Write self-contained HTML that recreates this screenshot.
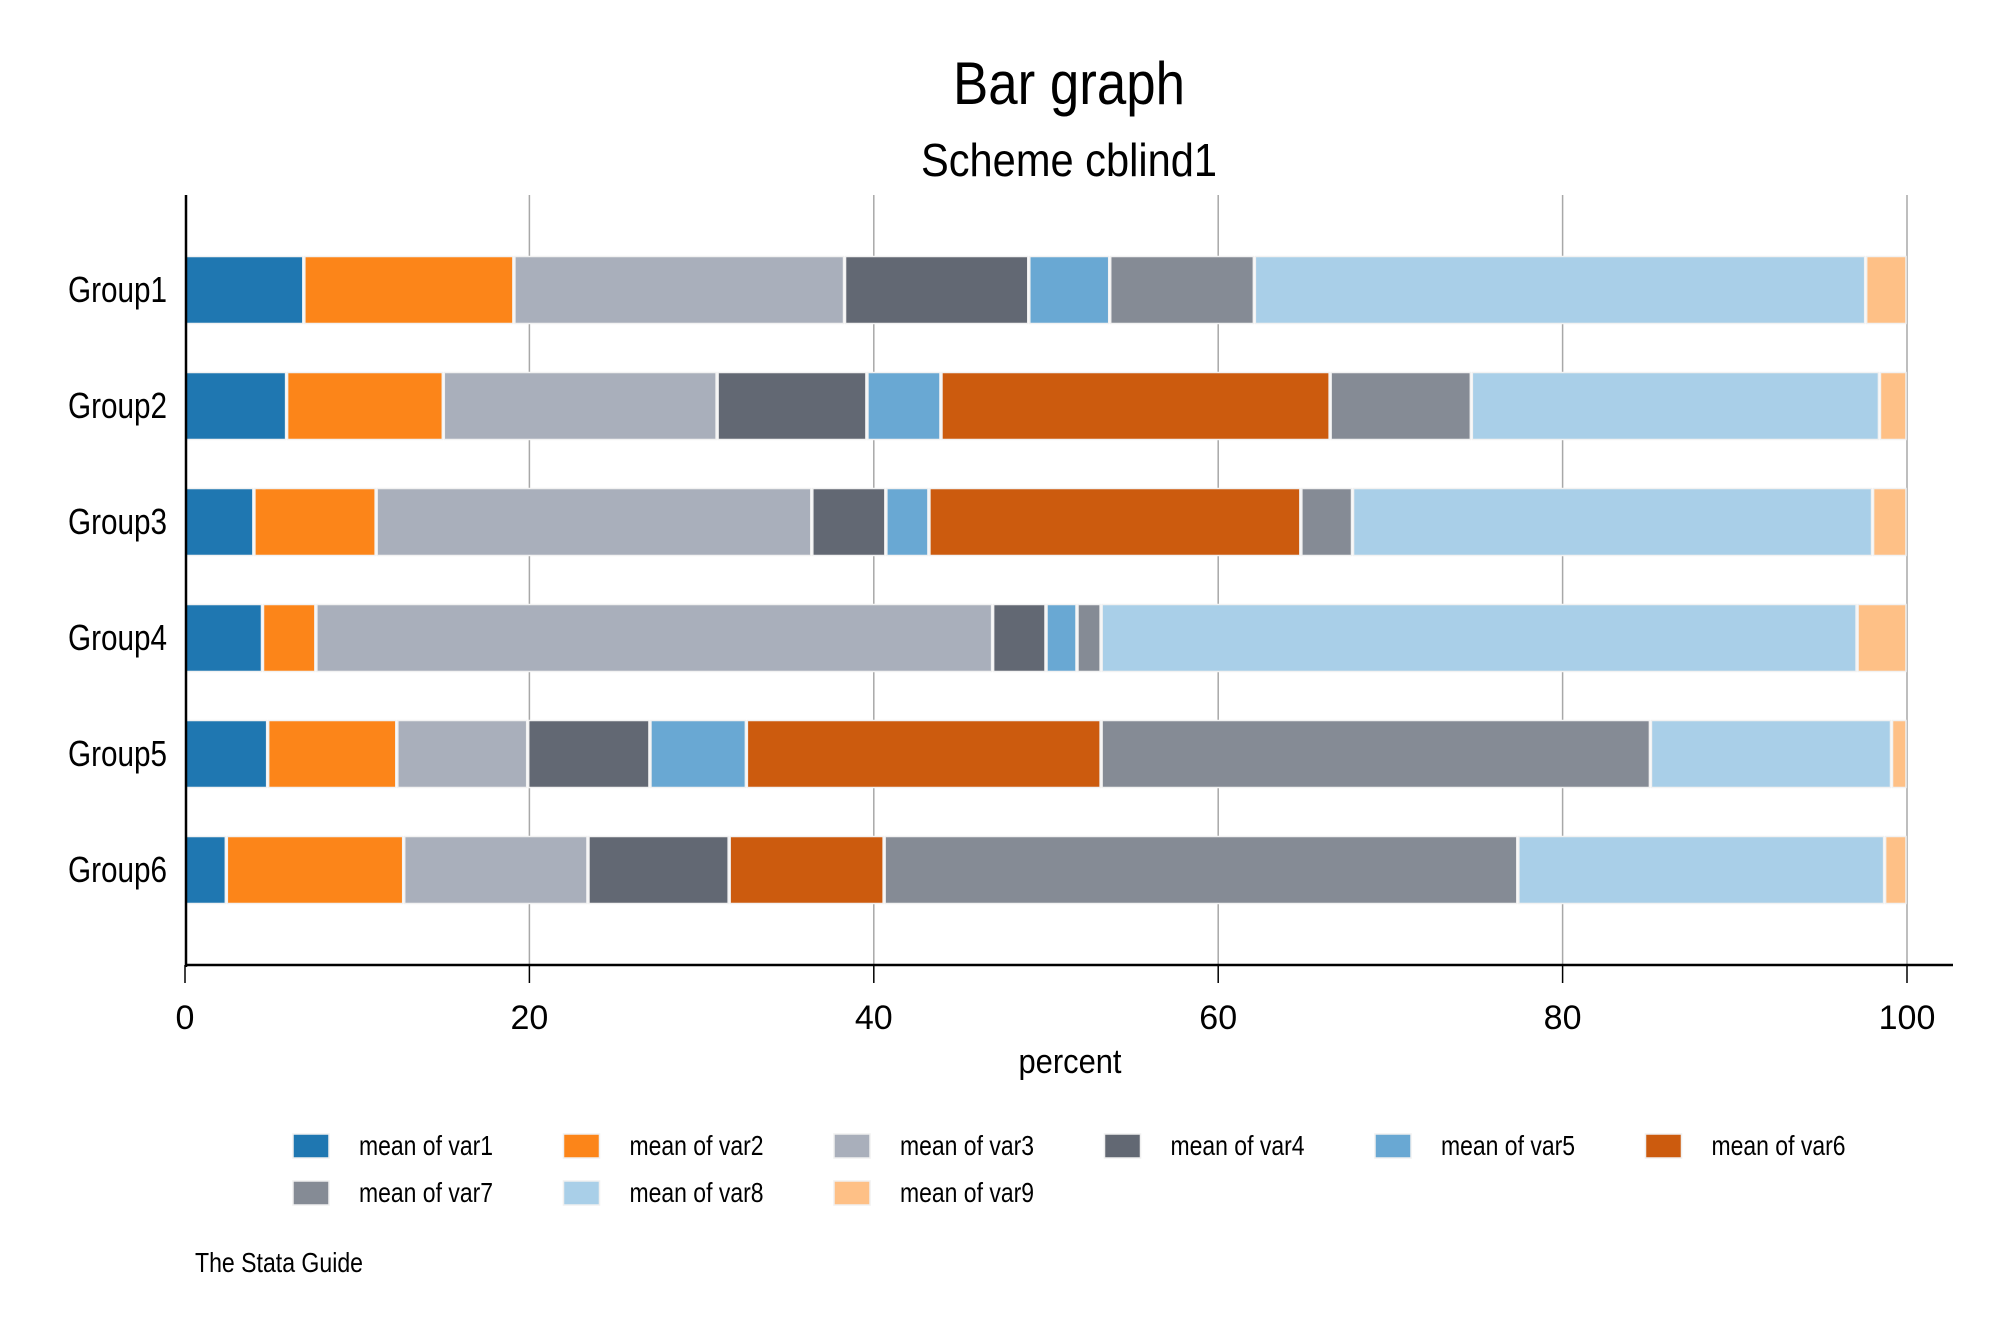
<!DOCTYPE html>
<html><head><meta charset="utf-8"><style>
html,body{margin:0;padding:0;background:#fff}
svg text{font-family:"Liberation Sans Narrow","Liberation Sans",sans-serif;fill:#000}
</style></head><body>
<svg id="chart" width="2000" height="1333" viewBox="0 0 2000 1333" xmlns="http://www.w3.org/2000/svg">
<rect width="2000" height="1333" fill="#fff"/>
<text x="1069" y="104" font-size="60" text-anchor="middle" textLength="232" lengthAdjust="spacingAndGlyphs">Bar graph</text>
<text x="1069" y="176" font-size="46" text-anchor="middle" textLength="296" lengthAdjust="spacingAndGlyphs">Scheme cblind1</text>
<g id="grid"></g>
<g id="bars"></g>
<g id="axes"></g>
<g id="legend"></g>
<text x="1070" y="1073" font-size="34" text-anchor="middle" textLength="103" lengthAdjust="spacingAndGlyphs">percent</text>
<text x="195" y="1272" font-size="28" textLength="168" lengthAdjust="spacingAndGlyphs">The Stata Guide</text>
</svg>
<script>
const groups = ["Group1","Group2","Group3","Group4","Group5","Group6"];
const seriesNames = ["mean of var1","mean of var2","mean of var3","mean of var4","mean of var5","mean of var6","mean of var7","mean of var8","mean of var9"];
const var1 = [6.9, 5.9, 4.0, 4.5, 4.8, 2.4];
const var2 = [12.2, 9.1, 7.1, 3.1, 7.5, 10.3];
const var3 = [19.2, 15.9, 25.3, 39.3, 7.6, 10.7];
const var4 = [10.7, 8.7, 4.3, 3.1, 7.1, 8.2];
const var5 = [4.7, 4.3, 2.5, 1.8, 5.6, 0];
const var6 = [0, 22.6, 21.6, 0, 20.6, 9.0];
const var7 = [8.4, 8.2, 3.0, 1.4, 31.9, 36.8];
const var8 = [35.5, 23.7, 30.2, 43.9, 14.0, 21.3];
const var9 = [2.4, 1.6, 2.0, 2.9, 0.9, 1.3];
const xTicks = [0, 20, 40, 60, 80, 100];

const series = [var1,var2,var3,var4,var5,var6,var7,var8,var9];
const colors = ["#1f77b1","#fc8519","#a9afbb","#626873","#69a8d3","#cc5b0e","#858b95","#a9cfe8","#fec086"];
const NS = "http://www.w3.org/2000/svg";
const x0 = 185, x1 = 1907;
const xScale = v => x0 + (v/100)*(x1-x0);
const yCenter = i => 290 + i*116;
const barH = 67;
function mk(tag, attrs, parent){const e=document.createElementNS(NS,tag);for(const k in attrs)e.setAttribute(k,attrs[k]);parent.appendChild(e);return e;}

const grid = document.getElementById('grid');
xTicks.forEach(t=>{ if(t===0) return;
  const l = mk('line',{x1:xScale(t),x2:xScale(t),y1:195,y2:965,stroke:'#a8a8a8','stroke-width':1.5},grid);
  
  
});

const bars = document.getElementById('bars');
groups.forEach((g,i)=>{
  let cum = 0;
  const total = series.reduce((s,a)=>s+a[i],0);
  series.forEach((arr,j)=>{
    const v = arr[i]/total*100;
    if(v>0){
      const r = mk('rect',{x:xScale(cum)+1,y:yCenter(i)-barH/2,width:Math.max(0,xScale(cum+v)-xScale(cum)-2),height:barH,fill:colors[j],stroke:'#f2f2f2','stroke-width':1.5},bars);
      
      
    }
    cum += v;
  });
  const t = mk('text',{x:167,y:yCenter(i)+12,'font-size':36,'text-anchor':'end',textLength:99,lengthAdjust:'spacingAndGlyphs'},bars);
  t.textContent = g;
  
  
});

const axes = document.getElementById('axes');
const ya = mk('line',{x1:186,x2:186,y1:195,y2:967,stroke:'#000','stroke-width':2.5},axes);


const xa = mk('line',{x1:185,x2:1953,y1:965,y2:965,stroke:'#000','stroke-width':2.5},axes);


xTicks.forEach(t=>{
  const tk = mk('line',{x1:xScale(t),x2:xScale(t),y1:965,y2:983,stroke:'#000','stroke-width':1.5},axes);
  
  
  const tl = mk('text',{x:xScale(t),y:1029,'font-size':34,'text-anchor':'middle'},axes);
  tl.textContent = t;
  
  
});

const legend = document.getElementById('legend');
seriesNames.forEach((n,j)=>{
  const col = j%6, row = Math.floor(j/6);
  const lx = 293 + col*270.5, ly = 1134 + row*47;
  const sw = mk('rect',{x:lx,y:ly,width:36,height:24,fill:colors[j],stroke:'#f0f0f0','stroke-width':1.5},legend);
  
  
  const tx = mk('text',{x:lx+66,y:ly+21,'font-size':28,textLength:134,lengthAdjust:'spacingAndGlyphs'},legend);
  tx.textContent = n;
  
  
});
</script>
</body></html>
